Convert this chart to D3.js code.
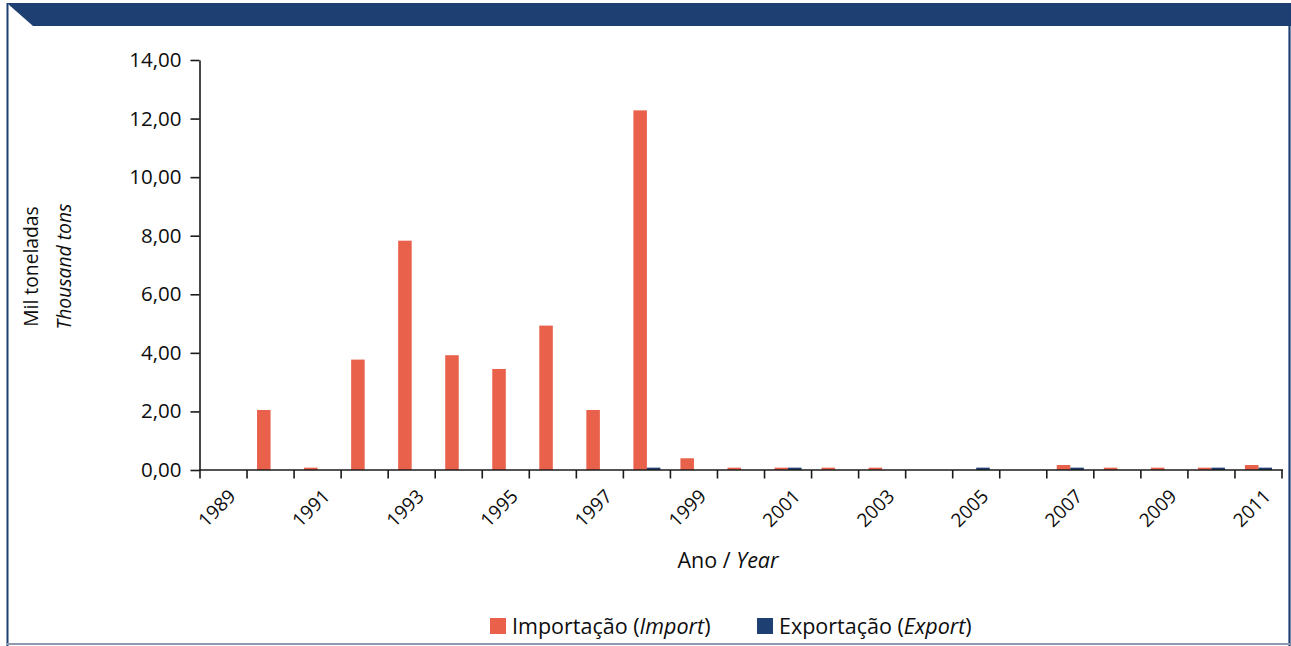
<!DOCTYPE html>
<html>
<head>
<meta charset="utf-8">
<script src="https://cdn.jsdelivr.net/npm/d3@7"></script>
<style>
  html, body { margin: 0; padding: 0; background: #fff; }
  svg { display: block; font-family: "Open Sans", "Noto Sans", sans-serif; }
</style>
</head>
<body>
<svg id="chart" width="1291" height="646"></svg>
<script>
// Categories: one per year
const years = ["1989","1990","1991","1992","1993","1994","1995","1996","1997","1998","1999",
               "2000","2001","2002","2003","2004","2005","2006","2007","2008","2009","2010","2011"];

// Thousand tons per year
const importValues = [0, 2.05, 0.08, 3.77, 7.83, 3.92, 3.45, 4.93, 2.05, 12.28, 0.40,
                      0.08, 0.08, 0.08, 0.08, 0, 0, 0, 0.17, 0.08, 0.08, 0.08, 0.17];
const exportValues = [0, 0, 0, 0, 0, 0, 0, 0, 0, 0.08, 0,
                      0, 0.08, 0, 0, 0, 0.08, 0, 0.08, 0, 0, 0.08, 0.08];

// Axis tick labels
const yTicks = [0, 2, 4, 6, 8, 10, 12, 14];
const xTickLabels = ["1989","1991","1993","1995","1997","1999","2001","2003","2005","2007","2009","2011"];

const seriesNames = ["Importação", "Exportação"];
const seriesLegend = [
  { main: "Importação (", italic: "Import", tail: ")" },
  { main: "Exportação (", italic: "Export", tail: ")" }
];

const RED = "#e9604b";
const NAVY = "#1d3f72";
const INK = "#0d0d0d";

const svg = d3.select("#chart");

// Frame: header band with a cut corner, side borders, bottom rule
svg.append("polygon")
  .attr("points", "7,3 1291,3 1291,26 33,26 8,4")
  .attr("fill", NAVY);
svg.append("line").attr("x1", 7.5).attr("x2", 7.5).attr("y1", 3).attr("y2", 646)
  .attr("stroke", NAVY).attr("stroke-width", 2);
svg.append("line").attr("x1", 1289.5).attr("x2", 1289.5).attr("y1", 3).attr("y2", 646)
  .attr("stroke", NAVY).attr("stroke-width", 2.2);
svg.append("line").attr("x1", 7).attr("x2", 1290).attr("y1", 644).attr("y2", 644)
  .attr("stroke", "#8d9ab0").attr("stroke-width", 2);

// Scales
const x = d3.scaleBand().domain(years).range([200, 1282]).paddingInner(0).paddingOuter(0);
const xs = d3.scaleBand().domain(seriesNames).range([0, x.bandwidth()])
  .paddingInner(0).paddingOuter(0.74);
const y = d3.scaleLinear().domain([0, 14]).range([470, 60]);

const fmt = v => d3.format(".2f")(v).replace(".", ",");

// Bars
const rows = years.map((yr, i) => ({ year: yr, values: [importValues[i], exportValues[i]] }));
const colors = [RED, NAVY];
const groups = svg.append("g").selectAll("g").data(rows).join("g")
  .attr("transform", d => `translate(${x(d.year)},0)`);
groups.selectAll("rect")
  .data(d => d.values.map((v, k) => ({ key: seriesNames[k], v, k })))
  .join("rect")
  .attr("x", d => xs(d.key))
  .attr("width", xs.bandwidth())
  .attr("y", d => y(d.v))
  .attr("height", d => y(0) - y(d.v))
  .attr("fill", d => colors[d.k]);

// Y axis
const yAxis = svg.append("g")
  .attr("transform", "translate(199.5,0)")
  .call(d3.axisLeft(y).tickValues(yTicks).tickFormat(fmt).tickSize(9).tickSizeOuter(0).tickPadding(9));
yAxis.select(".domain").attr("stroke", "#1a1a1a").attr("stroke-width", 1.6);
yAxis.selectAll(".tick line").attr("stroke", "#1a1a1a").attr("stroke-width", 1.6);
yAxis.selectAll(".tick text").attr("font-size", 20.5).attr("fill", INK)
  .attr("font-family", "'Open Sans', sans-serif");

// X axis: line plus ticks at category boundaries
const xAxisG = svg.append("g");
xAxisG.append("line")
  .attr("x1", 199).attr("x2", 1283)
  .attr("y1", y(0)).attr("y2", y(0))
  .attr("stroke", "#1a1a1a").attr("stroke-width", 1.6);
const boundaries = years.map(yr => x(yr)).concat([x(years[years.length - 1]) + x.bandwidth()]);
xAxisG.selectAll("line.tk").data(boundaries).join("line")
  .attr("class", "tk")
  .attr("x1", d => d).attr("x2", d => d)
  .attr("y1", y(0)).attr("y2", y(0) + 8.5)
  .attr("stroke", "#1a1a1a").attr("stroke-width", 1.6);
xAxisG.selectAll("text").data(xTickLabels).join("text")
  .attr("transform", d => `translate(${x(d) + x.bandwidth() / 2 + 13.5},497.5) rotate(-45)`)
  .attr("text-anchor", "end")
  .attr("font-size", 19)
  .attr("fill", INK)
  .text(d => d);

// Axis titles
svg.append("text")
  .attr("x", 728).attr("y", 568)
  .attr("text-anchor", "middle").attr("font-size", 21.5).attr("fill", INK)
  .call(t => {
    t.append("tspan").text("Ano / ");
    t.append("tspan").attr("font-style", "italic").text("Year");
  });

const yTitle = svg.append("g").attr("transform", "translate(0,266.5) rotate(-90)");
yTitle.append("text").attr("x", 0).attr("y", 37.5)
  .attr("text-anchor", "middle").attr("font-size", 19.3).attr("fill", INK)
  .text("Mil toneladas");
yTitle.append("text").attr("x", 0).attr("y", 71)
  .attr("text-anchor", "middle").attr("font-size", 19.3).attr("font-style", "italic").attr("fill", INK)
  .text("Thousand tons");

// Legend
const legendX = [490, 757];
const legend = svg.append("g");
seriesLegend.forEach((s, k) => {
  const g = legend.append("g").attr("transform", `translate(${legendX[k]},618)`);
  g.append("rect").attr("width", 16).attr("height", 16).attr("fill", colors[k]);
  const t = g.append("text").attr("x", 22).attr("y", 15.5)
    .attr("font-size", 21.5).attr("fill", INK);
  t.append("tspan").text(s.main);
  t.append("tspan").attr("font-style", "italic").text(s.italic);
  t.append("tspan").text(s.tail);
});
</script>
</body>
</html>
